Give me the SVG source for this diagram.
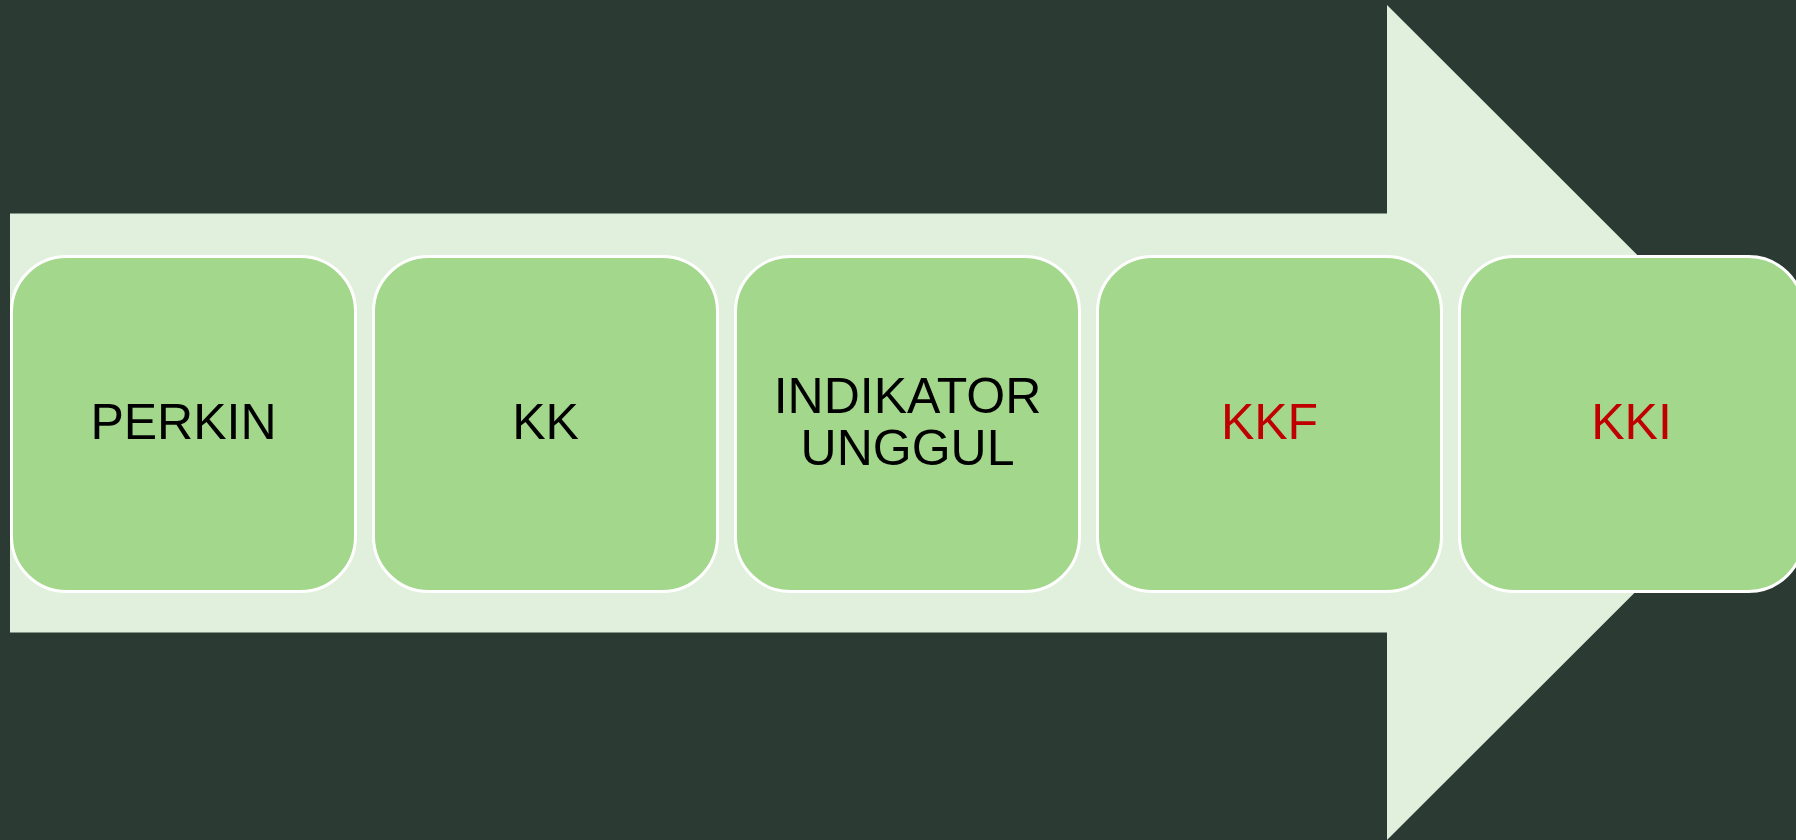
<svg xmlns="http://www.w3.org/2000/svg" width="1796" height="840" viewBox="0 0 1796 840">
<style>
.box{fill:#a3d78c;stroke:#ffffff;stroke-width:3}
.lbl{font-family:"Liberation Sans",Arial,sans-serif;font-size:50px;text-anchor:middle;fill:#000000}
.red{fill:#c00000}
</style>
<rect x="0" y="0" width="1796" height="840" fill="#2b3a32"/>
<g id="arrow">
<polygon points="10,213.5 1387,213.5 1387,5 1805,422.5 1387,840 1387,632.5 10,632.5" fill="#e0f0dc"/>
</g>
<g id="connectors"/>
<g id="n1"><rect class="box" x="11.5" y="256.5" width="344" height="335" rx="55"/><text class="lbl" x="183.5" y="439">PERKIN</text></g>
<g id="n2"><rect class="box" x="373.5" y="256.5" width="344" height="335" rx="55"/><text class="lbl" x="545.5" y="439">KK</text></g>
<g id="n3"><rect class="box" x="735.5" y="256.5" width="344" height="335" rx="55"/><text class="lbl" x="907.5" y="413">INDIKATOR</text><text class="lbl" x="907.5" y="465">UNGGUL</text></g>
<g id="n4"><rect class="box" x="1097.5" y="256.5" width="344" height="335" rx="55"/><text class="lbl red" x="1269.5" y="439">KKF</text></g>
<g id="n5"><rect class="box" x="1459.5" y="256.5" width="344" height="335" rx="55"/><text class="lbl red" x="1631.5" y="439">KKI</text></g>
</svg>
